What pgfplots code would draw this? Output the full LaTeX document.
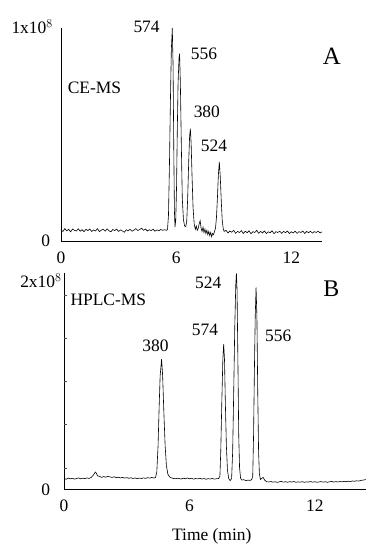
\documentclass[border=0pt]{standalone}
\usepackage{pgfplots}
\pgfplotsset{compat=1.18}
\usepackage{fontspec}
\setmainfont{Liberation Serif}
\begin{document}
\fontsize{17.5}{20}\selectfont
\begin{tikzpicture}
\useasboundingbox (0bp,0bp) rectangle (366bp,550bp);
\pgfplotsset{
  chrom/.style={
    scale only axis, clip=false,
    axis x line=bottom, axis y line=left,
    axis line style={-, line width=0.8pt, black},
    major tick length=0pt,
    tick style={black},
    xtick={0,6,12}, xticklabels={0,6,12},
    ytick={0}, yticklabels={0},
    xticklabel style={yshift=-5bp, font=\fontsize{17.5}{20}\selectfont},
    yticklabel style={font=\fontsize{17.5}{20}\selectfont},
  },
  trace/.style={black, line width=0.6pt, mark=none},
}
% ---------------- Panel A ----------------
\begin{axis}[chrom, at={(61bp,309bp)}, anchor=south west,
  width=261bp, height=213bp,
  xmin=0, xmax=13.6, ymin=0, ymax=1,
  yticklabel style={xshift=-5bp}]
\addplot[trace] coordinates {
(0.0,0.052)(0.1,0.045)(0.2,0.058)(0.3,0.048)(0.4,0.055)(0.5,0.043)(0.6,0.056)(0.7,0.050)(0.8,0.047)(0.9,0.057)
(1.0,0.046)(1.1,0.053)(1.2,0.044)(1.3,0.055)(1.4,0.049)(1.5,0.056)(1.6,0.045)(1.7,0.052)(1.8,0.047)(1.9,0.058)
(2.0,0.044)(2.1,0.051)(2.2,0.055)(2.3,0.046)(2.4,0.057)(2.5,0.048)(2.6,0.043)(2.7,0.054)(2.8,0.049)(2.9,0.056)
(3.0,0.045)(3.1,0.052)(3.2,0.047)(3.3,0.041)(3.4,0.053)(3.5,0.048)(3.6,0.055)(3.7,0.046)(3.8,0.051)(3.9,0.058)
(4.0,0.049)(4.1,0.054)(4.2,0.060)(4.3,0.050)(4.4,0.056)(4.5,0.047)(4.6,0.053)(4.7,0.049)(4.8,0.055)(4.9,0.046)
(5.0,0.052)(5.1,0.048)(5.2,0.054)(5.3,0.050)(5.4,0.053)(5.5,0.050)
(5.55,0.055)(5.6,0.12)(5.65,0.35)(5.7,0.65)(5.75,0.9)(5.8,1.0)(5.84,0.82)(5.88,0.4)(5.91,0.14)(5.94,0.065)
(5.98,0.1)(6.02,0.25)(6.06,0.52)(6.1,0.74)(6.15,0.86)(6.18,0.88)(6.22,0.74)(6.27,0.45)(6.32,0.2)(6.38,0.1)
(6.44,0.07)(6.5,0.068)(6.55,0.09)(6.6,0.2)(6.65,0.36)(6.7,0.49)(6.74,0.527)(6.78,0.46)(6.83,0.3)(6.88,0.16)
(6.94,0.08)(7.0,0.055)(7.05,0.07)(7.1,0.05)(7.15,0.06)(7.2,0.08)(7.25,0.095)(7.3,0.06)(7.35,0.045)(7.4,0.065)
(7.45,0.04)(7.5,0.055)(7.55,0.035)(7.6,0.05)(7.65,0.03)(7.7,0.045)(7.75,0.025)(7.8,0.04)(7.85,0.02)(7.9,0.035)
(7.95,0.03)(8.0,0.045)(8.05,0.06)(8.1,0.11)(8.15,0.2)(8.2,0.31)(8.25,0.371)(8.3,0.3)(8.35,0.19)(8.4,0.1)
(8.45,0.06)(8.5,0.045)(8.6,0.05)(8.7,0.038)(8.8,0.047)(8.9,0.041)(9.0,0.05)(9.1,0.036)(9.2,0.045)(9.3,0.04)
(9.4,0.049)(9.5,0.035)(9.6,0.046)(9.7,0.039)(9.8,0.048)(9.9,0.034)(10.0,0.044)(10.1,0.04)(10.2,0.05)(10.3,0.036)
(10.4,0.045)(10.5,0.038)(10.6,0.047)(10.7,0.035)(10.8,0.043)(10.9,0.039)(11.0,0.048)(11.1,0.034)(11.2,0.044)(11.3,0.04)
(11.4,0.046)(11.5,0.036)(11.6,0.045)(11.7,0.039)(11.8,0.047)(11.9,0.035)(12.0,0.043)(12.1,0.038)(12.2,0.046)(12.3,0.036)
(12.4,0.044)(12.5,0.04)(12.6,0.047)(12.7,0.035)(12.8,0.045)(12.9,0.039)(13.0,0.046)(13.1,0.037)(13.2,0.044)(13.3,0.04)
(13.4,0.046)(13.5,0.038)(13.6,0.043)
};
\node[anchor=east, inner sep=0pt] at (axis cs:-0.42,1.006) {1x10$^{8}$};
\node at (axis cs:4.46,1.005) {574};
\node at (axis cs:7.45,0.881) {556};
\node at (axis cs:7.6,0.605) {380};
\node at (axis cs:7.97,0.445) {524};
\node at (axis cs:1.745,0.717) {CE-MS};
\node[font=\fontsize{25}{28}\selectfont] at (axis cs:14.12,0.865) {A};
\end{axis}
% ---------------- Panel B ----------------
\begin{axis}[chrom, at={(64bp,60.7bp)}, anchor=south west,
  width=302bp, height=216bp,
  xmin=0, xmax=14.45, ymin=0, ymax=2,
  yticklabel style={xshift=-8bp},
  extra y ticks={0.2,0.6,1.0,1.4,1.8}, extra y tick labels={},
  extra y tick style={major tick length=3bp, tick align=inside, tick style={line width=0.4pt, black!70}}]
\addplot[trace] coordinates {
(0.0,0.1)(0.1,0.093)(0.2,0.104)(0.3,0.096)(0.4,0.102)(0.5,0.094)(0.6,0.1)(0.7,0.105)(0.8,0.097)(0.9,0.103)
(1.0,0.099)(1.1,0.106)(1.2,0.1)(1.3,0.11)(1.4,0.13)(1.5,0.16)(1.55,0.15)(1.6,0.125)(1.7,0.12)(1.8,0.11)
(1.9,0.118)(2.0,0.112)(2.1,0.12)(2.2,0.115)(2.3,0.11)(2.4,0.116)(2.5,0.108)(2.6,0.112)(2.7,0.105)(2.8,0.11)
(2.9,0.104)(3.0,0.108)(3.1,0.102)(3.2,0.107)(3.3,0.1)(3.4,0.105)(3.5,0.098)(3.6,0.104)(3.7,0.1)(3.8,0.106)
(3.9,0.101)(4.0,0.108)(4.1,0.103)(4.2,0.11)(4.3,0.104)(4.38,0.11)
(4.44,0.16)(4.5,0.4)(4.55,0.75)(4.6,1.05)(4.67,1.206)(4.72,1.05)(4.78,0.7)(4.84,0.4)(4.9,0.22)(4.97,0.14)
(5.05,0.115)(5.15,0.105)(5.25,0.1)(5.35,0.098)(5.45,0.102)
(5.5,0.1)(5.6,0.095)(5.7,0.103)(5.8,0.098)(5.9,0.105)(6.0,0.097)(6.1,0.102)(6.2,0.094)(6.3,0.1)(6.4,0.096)
(6.5,0.103)(6.6,0.095)(6.7,0.1)(6.8,0.093)(6.9,0.099)(7.0,0.095)(7.1,0.1)(7.2,0.094)(7.3,0.098)(7.4,0.1)
(7.46,0.12)(7.5,0.35)(7.55,0.8)(7.6,1.2)(7.64,1.345)(7.68,1.2)(7.72,0.8)(7.77,0.4)(7.82,0.18)(7.88,0.1)
(7.95,0.08)(8.02,0.1)
(8.07,0.35)(8.12,0.9)(8.17,1.5)(8.22,1.9)(8.25,2.0)(8.28,1.85)(8.32,1.2)(8.36,0.5)(8.4,0.2)(8.45,0.1)
(8.52,0.085)(8.6,0.09)(8.7,0.08)(8.8,0.085)(8.9,0.082)(8.98,0.09)
(9.03,0.12)(9.07,0.5)(9.11,1.1)(9.15,1.6)(9.19,1.87)(9.23,1.6)(9.27,0.9)(9.31,0.35)(9.35,0.14)(9.4,0.09)
(9.45,0.1)(9.53,0.11)(9.6,0.085)(9.7,0.07)
(9.8,0.068)(9.9,0.072)(10.0,0.066)(10.1,0.07)(10.2,0.064)(10.3,0.069)(10.4,0.073)(10.5,0.066)(10.6,0.07)(10.7,0.065)
(10.8,0.071)(10.9,0.067)(11.0,0.072)(11.1,0.065)(11.2,0.069)(11.3,0.066)(11.4,0.071)(11.5,0.064)(11.6,0.069)(11.7,0.067)
(11.8,0.072)(11.9,0.066)(12.0,0.07)(12.1,0.065)(12.2,0.068)(12.3,0.071)(12.4,0.066)(12.5,0.07)(12.6,0.065)(12.7,0.069)
(12.8,0.073)(12.9,0.067)(13.0,0.071)(13.1,0.068)(13.2,0.072)(13.3,0.069)(13.4,0.074)(13.5,0.07)(13.6,0.075)(13.7,0.072)
(13.8,0.077)(13.9,0.074)(14.0,0.079)(14.1,0.076)(14.2,0.082)(14.3,0.085)(14.45,0.09)
};
\node[anchor=east, inner sep=0pt] at (axis cs:-0.11,1.933) {2x10$^{8}$};
\node at (axis cs:4.38,1.329) {380};
\node at (axis cs:6.75,1.472) {574};
\node at (axis cs:6.9,1.913) {524};
\node at (axis cs:10.25,1.421) {556};
\node at (axis cs:2.12,1.753) {HPLC-MS};
\node[font=\fontsize{24}{27}\selectfont] at (axis cs:12.79,1.853) {B};
\node at (axis cs:7.07,-0.439) {Time (min)};
\end{axis}
\end{tikzpicture}
\end{document}
